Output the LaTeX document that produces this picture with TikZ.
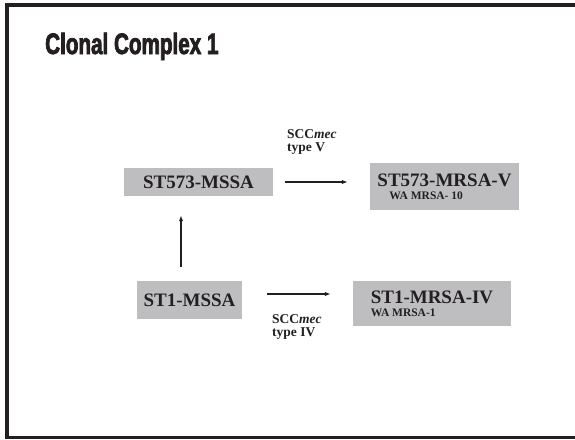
\documentclass[tikz,border=0pt]{standalone}
\usepackage{fontspec}
\setmainfont{Liberation Serif}
\newfontfamily\titlefont[FakeStretch=0.7,FakeBold=2.5]{Liberation Sans}
\usepackage{tikz}
\usepackage{xcolor}
\usetikzlibrary{arrows.meta,positioning,calc}

\definecolor{boxgray}{RGB}{190,190,193}
\definecolor{inkdark}{RGB}{35,31,32}

\begin{document}
\begin{tikzpicture}[x=1pt,y=-1pt,>={Latex[length=6pt,width=4.5pt]},
  strain/.style={fill=boxgray,inner sep=0pt,align=center,text=inkdark,
    font=\bfseries\fontsize{19}{13}\selectfont},
  mrsa/.style={strain,align=left},
  cass/.style={inner sep=0pt,align=left,text=inkdark,anchor=north west,
    font=\bfseries\fontsize{13.5}{13.5}\selectfont},
  link/.style={->,draw=inkdark,line width=1.4pt}]
  \useasboundingbox (0,0) rectangle (575,439);
  % slide frame
  \draw[inkdark,line width=4pt] (575,5.3) -- (5,5.3);
  \draw[inkdark,line width=4pt] (7,3.3) -- (7,439);
  \draw[inkdark,line width=2.5pt] (5,437.7) -- (575,437.7);
  % title
  \node[anchor=base west,inner sep=0pt,text=inkdark] (title) at (45,54)
    {\titlefont\bfseries\fontsize{29.5}{30}\selectfont Clonal Complex 1};
  % strains
  \node[strain,minimum width=149pt,minimum height=28pt] (mssa573) at (198.5,182) {ST573-MSSA};
  \node[mrsa,minimum width=149pt,minimum height=47pt] (mrsa573) at (444.5,186.5)
    {ST573-MRSA-V\\\hspace*{12pt}{\fontsize{11.5}{13}\selectfont WA MRSA- 10}};
  \node[strain,minimum width=105pt,minimum height=38pt] (mssa1) at (189.5,300) {ST1-MSSA};
  \node[mrsa,minimum width=158pt,minimum height=45pt] (mrsa1) at (432,303.5)
    {ST1-MRSA-IV\\{\fontsize{11.5}{12}\selectfont WA MRSA-1}};
  % acquisitions
  \draw[link] ([xshift=12pt]mssa573.east) -- ([xshift=-22pt]mrsa573.west |- mssa573.east);
  \draw[link] ([shift={(25pt,6pt)}]mssa1.east) -- ([shift={(-22pt,9.5pt)}]mrsa1.west);
  \draw[link] ([shift={(-8.5pt,14pt)}]mssa1.north) -- ([shift={(-17.5pt,-19pt)}]mssa573.south);
  \node[cass] (cassV) at (287,129) {SCC\textit{mec}\\type V};
  \node[cass] (cassIV) at (272,314) {SCC\textit{mec}\\type IV};
\end{tikzpicture}
\end{document}
